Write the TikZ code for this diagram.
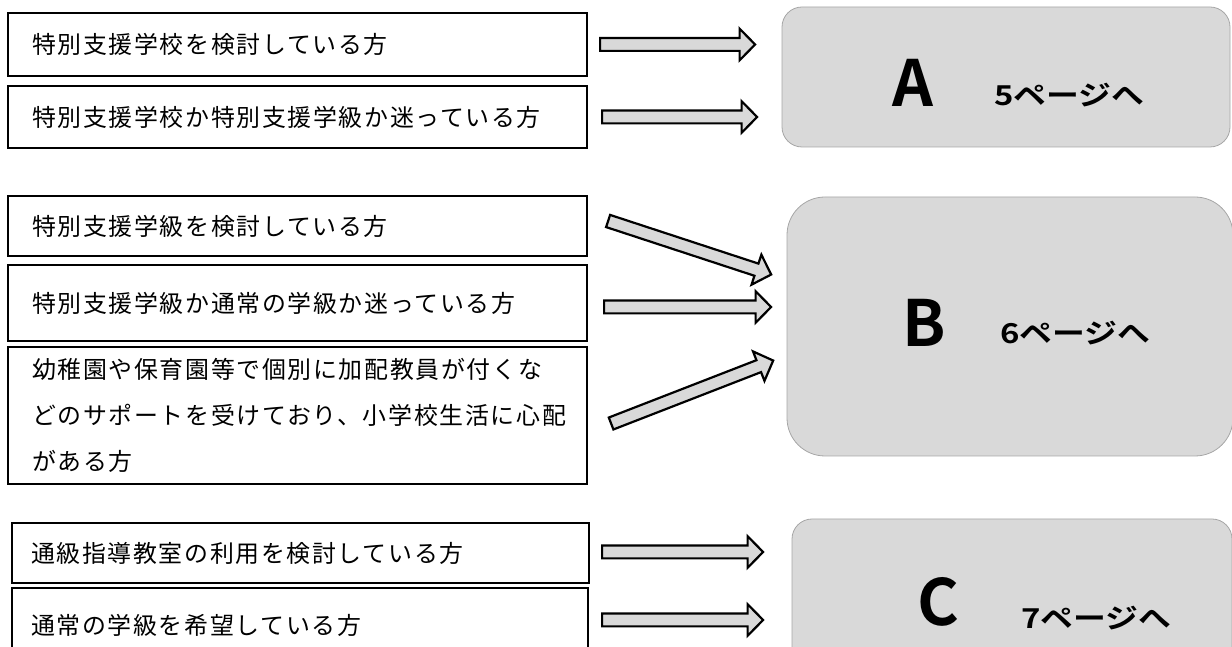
\documentclass[tikz,border=0pt]{standalone}
\usepackage{fontspec}
\usetikzlibrary{calc}
\newfontfamily\casefont[LetterSpace=7]{Noto Sans CJK JP}
\newfontfamily\destfont{Noto Sans CJK JP Bold}
\newfontfamily\pagefont[FakeStretch=1.2]{Noto Sans CJK JP Bold}
\definecolor{boxgray}{HTML}{D9D9D9}
\definecolor{edgegray}{HTML}{A6A6A6}
\tikzset{
  casebox/.style={draw,line width=2.2bp,align=left,inner ysep=0bp,font=\casefont\fontsize{24}{46}\selectfont},
  destbox/.style={draw=edgegray,line width=0.8bp,fill=boxgray,inner sep=0bp},
  destmark/.style={anchor=base west,inner sep=0bp,font=\destfont\fontsize{64}{64}\selectfont},
  destpage/.style={anchor=base west,inner sep=0bp,font=\pagefont\fontsize{27.5}{27.5}\selectfont},
  arrowbody/.style={draw,fill=boxgray,line width=2.2bp,line join=miter,miter limit=10},
}
% block arrow from #1 to #2
\newcommand{\blockarr}[2]{%
  \path let \p1=($(#2)-(#1)$) in \pgfextra{%
    \pgfmathsetmacro\arrang{atan2(\y1,\x1)}\global\let\arrang\arrang
    \pgfmathsetmacro\arrlen{veclen(\x1,\y1)}\global\let\arrlen\arrlen};
  \begin{scope}[shift={(#1)},rotate=\arrang]
    \draw [arrowbody] (0bp,-6.4bp) -- (\arrlen pt-17bp,-6.4bp) -- (\arrlen pt-17bp,-15.8bp) -- (\arrlen pt-1.5bp,0bp) -- (\arrlen pt-17bp,15.8bp) -- (\arrlen pt-17bp,6.4bp) -- (0bp,6.4bp) -- cycle;
  \end{scope}}
\begin{document}
\begin{tikzpicture}
        \useasboundingbox (0bp,0bp) rectangle (1232bp,647bp);
        \clip (0bp,0bp) rectangle (1232bp,647bp);
        %%
        \node (case_1) at (297.5bp,602.5bp) [casebox,text width=531bp,inner xsep=24bp,minimum height=63bp] {特別支援学校を検討している方};
        \node (case_2) at (297.5bp,530bp) [casebox,text width=531bp,inner xsep=24bp,minimum height=62bp] {特別支援学校か特別支援学級か迷っている方};
        \node (case_3) at (297.5bp,421bp) [casebox,text width=531bp,inner xsep=24bp,minimum height=60bp] {特別支援学級を検討している方};
        \node (case_4) at (297.5bp,344bp) [casebox,text width=531bp,inner xsep=24bp,minimum height=76bp] {特別支援学級か通常の学級か迷っている方};
        \node (case_5) at (297.5bp,231.5bp) [casebox,text width=531bp,inner xsep=24bp,minimum height=137bp] {幼稚園や保育園等で個別に加配教員が付くな\\どのサポートを受けており、小学校生活に心配\\がある方};
        \node (case_6) at (300.5bp,94bp) [casebox,text width=539bp,inner xsep=19bp,minimum height=60bp] {通級指導教室の利用を検討している方};
        \node (case_7) at (300bp,22bp) [casebox,text width=538bp,inner xsep=19bp,minimum height=74bp] {通常の学級を希望している方};
        %
        \node (dest_A) at (1006bp,570bp) [destbox,rounded corners=20bp,minimum width=448bp,minimum height=140bp] {};
        \node (dest_B) at (1010bp,320.5bp) [destbox,rounded corners=38bp,minimum width=446bp,minimum height=259bp] {};
        \node (dest_C) at (1012bp,42.5bp) [destbox,rounded corners=20bp,minimum width=440bp,minimum height=171bp] {};
        \node (mark_A) at (892bp,540bp) [destmark] {A};
        \node (page_A) at (994bp,541bp) [destpage] {5ページへ};
        \node (mark_B) at (902bp,300bp) [destmark] {B};
        \node (page_B) at (1000bp,303bp) [destpage] {6ページへ};
        \node (mark_C) at (917bp,22bp) [destmark] {C};
        \node (page_C) at (1021bp,19bp) [destpage] {7ページへ};
        %
        \coordinate (a1_tail) at ($(case_1.east)+(12bp,0bp)$);
        \coordinate (a1_tip) at ($(dest_A.west |- case_1.east)+(-25bp,0bp)$);
        \coordinate (a2_tail) at ($(case_2.east)+(14bp,0bp)$);
        \coordinate (a2_tip) at ($(dest_A.west |- case_2.east)+(-23bp,0bp)$);
        \coordinate (b1_tail) at ($(case_3.east)+(20bp,5bp)$);
        \coordinate (b1_tip) at ($(dest_B.west)+(-14bp,51.5bp)$);
        \coordinate (b2_tail) at ($(case_4.east)+(16bp,-4bp)$);
        \coordinate (b2_tip) at ($(dest_B.west)+(-14bp,19.5bp)$);
        \coordinate (b3_tail) at ($(case_5.east)+(23bp,-8bp)$);
        \coordinate (b3_tip) at ($(dest_B.west)+(-12bp,-33.5bp)$);
        \coordinate (c1_tail) at ($(case_6.east)+(12bp,1bp)$);
        \coordinate (c1_tip) at ($(dest_C.west |- c1_tail)+(-27bp,0bp)$);
        \coordinate (c2_tail) at ($(case_7.east)+(13bp,5bp)$);
        \coordinate (c2_tip) at ($(dest_C.west |- c2_tail)+(-27bp,0bp)$);
        \blockarr{a1_tail}{a1_tip}
        \blockarr{a2_tail}{a2_tip}
        \blockarr{b1_tail}{b1_tip}
        \blockarr{b2_tail}{b2_tip}
        \blockarr{b3_tail}{b3_tip}
        \blockarr{c1_tail}{c1_tip}
        \blockarr{c2_tail}{c2_tip}
        %
\end{tikzpicture}
\end{document}
